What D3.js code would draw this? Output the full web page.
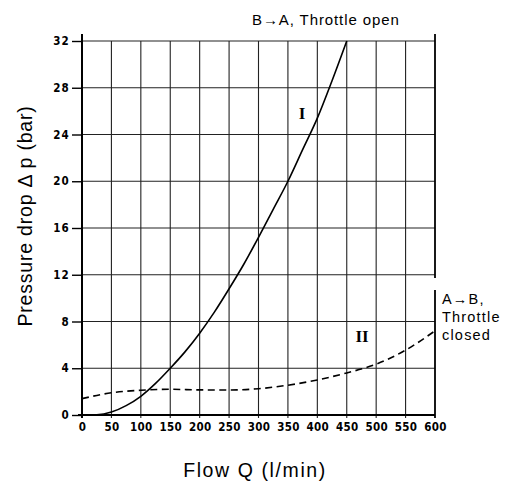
<!DOCTYPE html>
<html><head><meta charset="utf-8">
<script src="https://cdn.jsdelivr.net/npm/d3@7"></script>
<style>body{margin:0;background:#fff}svg{display:block}</style>
</head><body><svg id="c" width="513" height="487"></svg>
<script>
const xTicks = [0,50,100,150,200,250,300,350,400,450,500,550,600];
const yTicks = [0,4,8,12,16,20,24,28,32];
const curveIQ = [0,25,50,75,100,125,150,175,200,225,250,275,300,325,350,375,400,425,450];
const curveIP = [0,0.02,0.25,0.8,1.6,2.7,4,5.4,7,8.8,10.8,12.9,15.2,17.6,20,22.7,25.4,28.6,32];
const curveIIQ = [0,50,100,150,200,250,300,350,400,450,500,550,600];
const curveIIP = [1.4,1.9,2.12,2.2,2.15,2.14,2.25,2.55,3.0,3.6,4.35,5.55,7.2];

const svg = d3.select("#c");
const x = d3.scaleLinear().domain([0,600]).range([82,435]);
const y = d3.scaleLinear().domain([0,32]).range([415,41]);
const tickFont = "'DejaVu Sans Condensed','DejaVu Sans',sans-serif";
const txtFont = "'Liberation Sans',Arial,sans-serif";

// grid
const g = svg.append("g");
g.selectAll("line.v").data(xTicks.slice(1,-1)).enter().append("line")
  .attr("x1",d=>x(d)).attr("x2",d=>x(d)).attr("y1",y(32)).attr("y2",y(0)+3)
  .attr("stroke","#222").attr("stroke-width",1.1);
g.selectAll("line.h").data(yTicks.slice(1)).enter().append("line")
  .attr("x1",x(0)).attr("x2",x(600)).attr("y1",d=>y(d)).attr("y2",d=>y(d))
  .attr("stroke","#222").attr("stroke-width",1.1);

// axes with d3
const ya = svg.append("g").attr("transform",`translate(${x(0)},0)`)
  .call(d3.axisLeft(y).tickValues(yTicks).tickSize(10).tickPadding(2).tickSizeOuter(0));
ya.select(".domain").remove();
ya.selectAll(".tick line").attr("stroke","#000").attr("stroke-width",1.4);
ya.selectAll(".tick text").attr("font-family",tickFont).attr("font-size",11.5).attr("font-weight","bold")
  .attr("letter-spacing","1.2px").attr("fill","#000");

const xa = svg.append("g").attr("transform",`translate(0,${y(0)})`)
  .call(d3.axisBottom(x).tickValues(xTicks).tickSize(0).tickPadding(8).tickSizeOuter(0));
xa.select(".domain").remove();
xa.selectAll(".tick text").attr("font-family",tickFont).attr("font-size",11.5).attr("font-weight","bold")
  .attr("letter-spacing","0.3px").attr("fill","#000");

// axis lines
svg.append("line").attr("x1",x(0)).attr("x2",x(0)).attr("y1",34).attr("y2",y(0)+3).attr("stroke","#000").attr("stroke-width",2);
svg.append("line").attr("x1",x(0)-4).attr("x2",x(600)).attr("y1",y(0)).attr("y2",y(0)).attr("stroke","#000").attr("stroke-width",1.8);
svg.append("line").attr("x1",x(600)).attr("x2",x(600)).attr("y1",34).attr("y2",278).attr("stroke","#000").attr("stroke-width",1.8);
svg.append("line").attr("x1",x(600)).attr("x2",x(600)).attr("y1",290).attr("y2",y(0)+3).attr("stroke","#000").attr("stroke-width",1.8);

// curves
const line = d3.line().x(d=>x(d[0])).y(d=>y(d[1])).curve(d3.curveMonotoneX);
svg.append("path").datum(d3.zip(curveIQ,curveIP)).attr("d",line)
  .attr("fill","none").attr("stroke","#000").attr("stroke-width",1.6);
svg.append("path").datum(d3.zip(curveIIQ,curveIIP)).attr("d",line)
  .attr("fill","none").attr("stroke","#000").attr("stroke-width",1.6).attr("stroke-dasharray","7,4.5");

// curve labels
svg.append("text").attr("x",302).attr("y",119).attr("text-anchor","middle")
  .attr("font-family","'Liberation Serif','DejaVu Serif',serif").attr("font-size",17).attr("font-weight","bold").text("I");
svg.append("text").attr("x",362).attr("y",342).attr("text-anchor","middle")
  .attr("font-family","'Liberation Serif','DejaVu Serif',serif").attr("font-size",17).attr("font-weight","bold").text("II");

// annotations
svg.append("text").attr("x",252).attr("y",25).attr("font-family",txtFont).attr("font-size",15)
  .attr("letter-spacing","0.9px").attr("fill","#000").text("B→A, Throttle open");
const ann = svg.append("text").attr("font-family",txtFont).attr("font-size",14.5).attr("letter-spacing","1.2px").attr("fill","#000");
["A→B,","Throttle","closed"].forEach((t,i)=>ann.append("tspan").attr("x",442).attr("y",304+i*18).text(t));

// axis titles
svg.append("text").attr("x",255).attr("y",477).attr("text-anchor","middle").attr("font-family",txtFont)
  .attr("font-size",19.5).attr("letter-spacing","1.6px").text("Flow Q (l/min)");
svg.append("text").attr("transform","translate(32,216) rotate(-90)").attr("text-anchor","middle").attr("font-family",txtFont)
  .attr("font-size",19.5).attr("letter-spacing","0.8px").text("Pressure drop Δ p (bar)");
</script></body></html>
